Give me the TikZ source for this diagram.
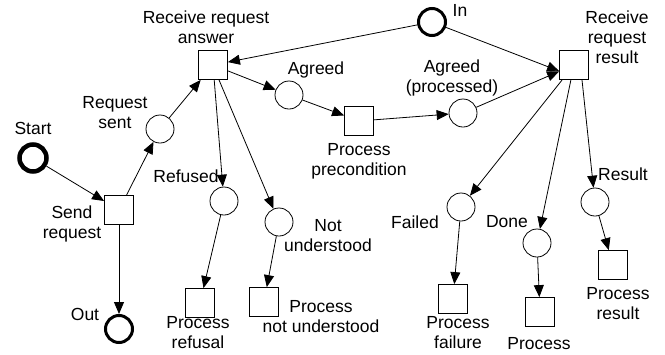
\documentclass[tikz,border=0pt]{standalone}
\usepackage{fontspec}
\setmainfont{Liberation Sans}
\usetikzlibrary{arrows.meta}
\tikzset{%
  tipA/.tip={Triangle[length=12pt,width=10pt]},
  place/.style={circle, draw, line width=0.8pt, minimum size=28pt, inner sep=0pt},
  endplace/.style={place, line width=3pt, minimum size=27pt},
  trans/.style={rectangle, draw, line width=0.8pt, minimum size=29pt, inner sep=0pt},
  lbl/.style={align=center, inner sep=0pt, font=\fontsize{17.5}{20}\selectfont},
  arc/.style={line width=0.8pt, -tipA}
}

\begin{document}
\begin{tikzpicture}[x=1pt,y=-1pt]
\useasboundingbox (0,0) rectangle (665,354);

\node[endplace, line width=4.5pt] (start) at (33,158) {};
\node[endplace] (in) at (432,22) {};
\node[endplace] (out) at (119,329) {};
\node[place] (sent) at (160,129) {};
\node[place] (agreed) at (289,95) {};
\node[place] (agreedp) at (463,113) {};
\node[place] (refused) at (224,201) {};
\node[place] (notund) at (279,222) {};
\node[place] (failed) at (461,207) {};
\node[place] (done) at (537,243) {};
\node[place] (result) at (595,202) {};

\node[trans] (send) at (119,210) {};
\node[trans] (rra) at (213,65) {};
\node[trans] (rrr) at (574,65) {};
\node[trans] (pprec) at (359,121) {};
\node[trans] (pref) at (200,303) {};
\node[trans] (pnu) at (264,302) {};
\node[trans] (pfail) at (453,299) {};
\node[trans] (pdone) at (540,312) {};
\node[trans] (pres) at (613,265) {};

\node[lbl] (l-start) at (33,128) {Start};
\node[lbl] (l-in) at (460,10) {In};
\node[lbl] (l-out) at (85,314) {Out};
\node[lbl] (l-sent) at (115,113) {Request\\sent};
\node[lbl] (l-agreed) at (316,70) {Agreed};
\node[lbl] (l-agreedp) at (452,78) {Agreed\\(processed)};
\node[lbl] (l-refused) at (186,176) {Refused};
\node[lbl] (l-notund) at (328,236) {Not\\understood};
\node[lbl] (l-failed) at (415,222) {Failed};
\node[lbl] (l-done) at (507,222) {Done};
\node[lbl] (l-result) at (623,174) {Result};
\node[lbl] (l-send) at (72,224) {Send\\request};
\node[lbl] (l-rra) at (206,27) {Receive request\\answer};
\node[lbl] (l-rrr) at (617,37) {Receive\\request\\result};
\node[lbl] (l-pprec) at (359,161) {Process\\precondition};
\node[lbl] (l-pref) at (198,333) {Process\\refusal};
\node[lbl] (l-pnu) at (321,317) {Process\\not understood};
\node[lbl] (l-pfail) at (458,333) {Process\\failure};
\node[lbl] (l-pdone) at (539,344) {Process};
\node[lbl] (l-pres) at (618,304) {Process\\result};

\draw[arc] (start) -- (send);
\draw[arc] (send) -- (sent);
\draw[arc] (sent) -- (rra);
\draw[arc] (send) -- (out);
\draw[arc] (in) -- (rra);
\draw[arc] (in) -- ([yshift=-6pt]rrr.west);
\draw[arc] (rra) -- (agreed);
\draw[arc] (agreed) -- (pprec);
\draw[arc] (pprec) -- (agreedp);
\draw[arc] (agreedp) -- (rrr);
\draw[arc] (rra) -- (refused);
\draw[arc] ([xshift=6pt]rra.south) -- (notund);
\draw[arc] (refused) -- (pref);
\draw[arc] (notund) -- (pnu);
\draw[arc] (rrr) -- (failed);
\draw[arc] (rrr) -- (done);
\draw[arc] ([xshift=8pt]rrr.south) -- (result);
\draw[arc] (failed) -- (pfail);
\draw[arc] (done) -- (pdone);
\draw[arc] (result) -- (pres);
\end{tikzpicture}
\end{document}
